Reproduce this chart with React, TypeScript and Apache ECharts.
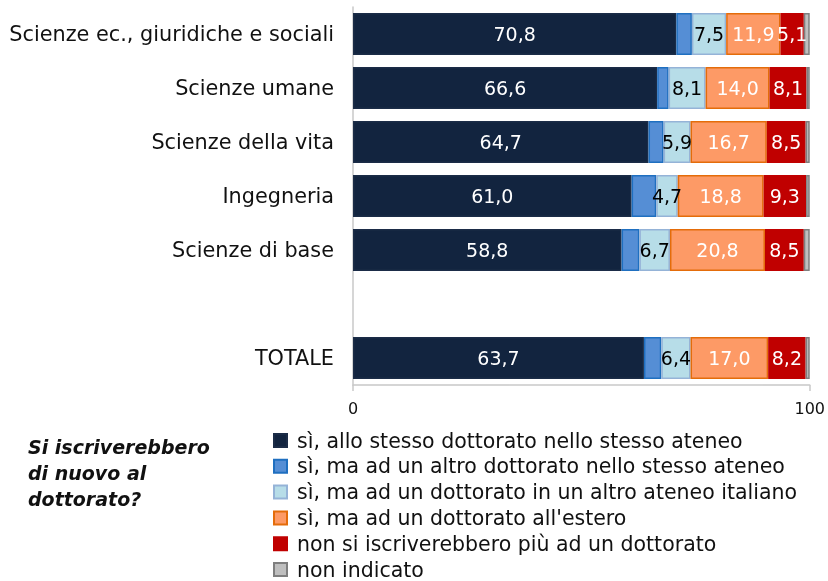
import React, { useEffect, useRef } from "react";
import * as echarts from "echarts";

const categories = [
  "Scienze ec., giuridiche e sociali",
  "Scienze umane",
  "Scienze della vita",
  "Ingegneria",
  "Scienze di base",
  "",
  "TOTALE",
];

const seriesNames = [
  "sì, allo stesso dottorato nello stesso ateneo",
  "sì, ma ad un altro dottorato nello stesso ateneo",
  "sì, ma ad un dottorato in un altro ateneo italiano",
  "sì, ma ad un dottorato all'estero",
  "non si iscriverebbero più ad un dottorato",
  "non indicato",
];

const stessoDottorato = [70.8, 66.6, 64.7, 61.0, 58.8, null, 63.7];
const altroDottorato = [3.4, 2.5, 3.3, 5.4, 3.9, null, 3.8];
const altroAteneo = [7.5, 8.1, 5.9, 4.7, 6.7, null, 6.4];
const estero = [11.9, 14.0, 16.7, 18.8, 20.8, null, 17.0];
const nonIscriverebbero = [5.1, 8.1, 8.5, 9.3, 8.5, null, 8.2];
const nonIndicato = [1.3, 0.7, 0.9, 0.8, 1.3, null, 0.9];

const seriesData = [
  stessoDottorato,
  altroDottorato,
  altroAteneo,
  estero,
  nonIscriverebbero,
  nonIndicato,
];

const fills = ["#12243f", "#558ed5", "#b7dde8", "#fd9a66", "#c00000", "#bfbfbf"];
const borders = ["#1b2c47", "#1f6fc0", "#95b3d7", "#e46c0a", "#c00000", "#7f7f7f"];
const showLabel = [true, false, true, true, true, false];
const labelColors = ["#ffffff", "#000000", "#000000", "#ffffff", "#ffffff", "#000000"];

const FONT = "'DejaVu Sans', sans-serif";

export default function App() {
  const ref = useRef<HTMLDivElement>(null);
  useEffect(() => {
    if (!ref.current) return;
    const chart = echarts.init(ref.current, null, { renderer: "svg" });
    chart.setOption({
      animation: false,
      textStyle: { fontFamily: FONT },
      title: {
        text: "Si iscriverebbero\ndi nuovo al\ndottorato?",
        left: 23,
        top: 429,
        padding: 5,
        textStyle: {
          fontFamily: FONT,
          fontSize: 19,
          fontStyle: "italic",
          fontWeight: "bold",
          color: "#111111",
          lineHeight: 26,
        },
      },
      legend: {
        orient: "vertical",
        left: 268,
        top: 425,
        height: 200,
        itemWidth: 13,
        itemHeight: 13,
        itemGap: 4.8,
        icon: "rect",
        data: seriesNames,
        textStyle: {
          fontFamily: FONT,
          fontSize: 20.5,
          color: "#111111",
          lineHeight: 20,
          padding: [0, 0, 0, 5],
        },
      },
      grid: { left: 353, top: 7, width: 459, height: 378, containLabel: false },
      xAxis: {
        type: "value",
        min: 0,
        max: 100,
        interval: 100,
        axisLine: { show: true, lineStyle: { color: "#c8c8c8", width: 1.5 } },
        axisTick: { show: true, length: 6, lineStyle: { color: "#c8c8c8", width: 1.5 } },
        splitLine: { show: false },
        axisLabel: { fontFamily: FONT, fontSize: 16, color: "#111111", margin: 15 },
      },
      yAxis: {
        type: "category",
        inverse: true,
        data: categories,
        axisLine: { show: true, lineStyle: { color: "#c8c8c8", width: 1.5 } },
        axisTick: { show: false },
        axisLabel: { fontFamily: FONT, fontSize: 20.8, color: "#111111", margin: 19 },
      },
      series: seriesNames.map((name, i) => ({
        name,
        type: "bar",
        stack: "total",
        barWidth: 42,
        data: seriesData[i],
        itemStyle: { color: fills[i], borderColor: borders[i], borderWidth: 1.5 },
        label: {
          show: showLabel[i],
          position: "inside",
          fontFamily: FONT,
          fontSize: 19,
          color: labelColors[i],
          formatter: (p: any) =>
            p.value == null ? "" : Number(p.value).toFixed(1).replace(".", ","),
        },
      })),
    });
    return () => chart.dispose();
  }, []);
  return (
    <div
      ref={ref}
      style={{ position: "fixed", left: 0, top: 0, width: 828, height: 581 }}
    />
  );
}
